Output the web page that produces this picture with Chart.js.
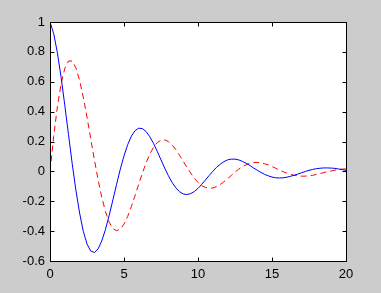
<!DOCTYPE html>
<html>
<head>
<meta charset="utf-8">
<script src="https://cdn.jsdelivr.net/npm/chart.js@4/dist/chart.umd.min.js"></script>
<style>
  html, body { margin:0; padding:0; background:#cccccc; }
  #wrap { width:381px; height:293px; }
</style>
</head>
<body>
<div id="wrap"><canvas id="mychart" width="381" height="293"></canvas></div>
<script>
// sample times
var t = [0,0.25,0.5,0.75,1,1.25,1.5,1.75,2,2.25,2.5,2.75,3,3.25,3.5,3.75,4,4.25,4.5,4.75,
         5,5.25,5.5,5.75,6,6.25,6.5,6.75,7,7.25,7.5,7.75,8,8.25,8.5,8.75,9,9.25,9.5,9.75,
         10,10.25,10.5,10.75,11,11.25,11.5,11.75,12,12.25,12.5,12.75,13,13.25,13.5,13.75,14,14.25,14.5,14.75,
         15,15.25,15.5,15.75,16,16.25,16.5,16.75,17,17.25,17.5,17.75,18,18.25,18.5,18.75,19,19.25,19.5,19.75,20]

// solid blue curve
var blue = [1.000,0.922,0.794,0.630,0.442,0.246,0.052,-0.126,-0.279,-0.401,-0.486,-0.533,-0.543,-0.519,-0.465,-0.388,-0.294,-0.191,-0.086,0.015,
            0.104,0.179,0.236,0.273,0.289,0.286,0.266,0.231,0.186,0.133,0.077,0.022,-0.029,-0.074,-0.110,-0.136,-0.151,-0.155,-0.149,-0.135,
            -0.114,-0.087,-0.058,-0.028,0.000,0.027,0.048,0.065,0.077,0.082,0.082,0.077,0.067,0.055,0.040,0.023,0.008,-0.007,-0.020,-0.030,
            -0.038,-0.043,-0.044,-0.043,-0.039,-0.033,-0.026,-0.018,-0.009,-0.001,0.007,0.013,0.018,0.021,0.023,0.023,0.022,0.020,0.016,0.012,0.007]

// dashed red curve
var red = [0.000,0.235,0.434,0.587,0.689,0.739,0.739,0.693,0.610,0.496,0.363,0.220,0.077,-0.056,-0.174,-0.270,-0.340,-0.383,-0.397,-0.386,
           -0.353,-0.301,-0.235,-0.161,-0.084,-0.010,0.059,0.117,0.162,0.193,0.209,0.211,0.200,0.177,0.146,0.108,0.068,0.027,-0.011,-0.046,
           -0.074,-0.095,-0.108,-0.113,-0.111,-0.102,-0.088,-0.070,-0.049,-0.027,-0.005,0.015,0.031,0.044,0.054,0.059,0.060,0.057,0.051,0.043,
           0.032,0.021,0.008,-0.002,-0.012,-0.020,-0.026,-0.030,-0.032,-0.032,-0.029,-0.026,-0.021,-0.015,-0.008,-0.002,0.003,0.008,0.012,0.015,0.017]

var xTicks = [0,5,10,15,20]
var yTicks = [-0.6,-0.4,-0.2,0,0.2,0.4,0.6,0.8,1]

function pts(ys){
    return t.map(function(x,i){ return {x:x, y:ys[i]} })
}

// gray figure, white axes, box with inward ticks like matlab
var boxPlugin = {
    id:'box',
    beforeDraw:function(chart){
        var c = chart.ctx, a = chart.chartArea
        c.save()
        c.fillStyle = '#cccccc'
        c.fillRect(0,0,chart.width,chart.height)
        c.fillStyle = '#ffffff'
        c.fillRect(a.left,a.top,a.right-a.left,a.bottom-a.top)
        c.restore()
    },
    afterDraw:function(chart){
        var c = chart.ctx, a = chart.chartArea
        var xs = chart.scales.x, ys = chart.scales.y
        var L = Math.round(a.left)+0.5, R = Math.round(a.right)+0.5
        var T = Math.round(a.top)+0.5, B = Math.round(a.bottom)+0.5
        c.save()
        c.strokeStyle = '#000'
        c.lineWidth = 1
        c.beginPath()
        c.rect(L,T,R-L,B-T)
        xTicks.forEach(function(v){
            var px = Math.round(xs.getPixelForValue(v))+0.5
            c.moveTo(px,B); c.lineTo(px,B-4)
            c.moveTo(px,T); c.lineTo(px,T+4)
        })
        yTicks.forEach(function(v){
            var py = Math.round(ys.getPixelForValue(v))+0.5
            c.moveTo(L,py); c.lineTo(L+4,py)
            c.moveTo(R,py); c.lineTo(R-4,py)
        })
        c.stroke()
        c.restore()
    }
}

var ctx = document.getElementById('mychart').getContext('2d')
var chart = new Chart(ctx,{
    type:'line',
    data:{
        datasets:[
            {
                data:pts(blue),
                borderColor:'#0000ff',
                borderWidth:1,
                pointRadius:0,
                tension:0,
            },
            {
                data:pts(red),
                borderColor:'#ff0000',
                borderWidth:1,
                borderDash:[6,4],
                pointRadius:0,
                tension:0,
            },
        ]
    },
    options:{
        responsive:false,
        animation:false,
        layout:{padding:{top:22,right:35,left:0,bottom:0}},
        plugins:{legend:{display:false},tooltip:{enabled:false}},
        scales:{
            x:{
                type:'linear',
                min:0, max:20,
                grid:{display:false, drawTicks:false},
                border:{display:false},
                afterBuildTicks:function(s){ s.ticks = xTicks.map(function(v){return {value:v}}) },
                afterFit:function(s){ s.height = 32 },
                ticks:{
                    color:'#000',
                    padding:6,
                    maxRotation:0,
                    font:{family:'Liberation Sans', size:13},
                    callback:function(v){ return String(v) }
                }
            },
            y:{
                min:-0.6, max:1,
                grid:{display:false, drawTicks:false},
                border:{display:false},
                afterBuildTicks:function(s){ s.ticks = yTicks.map(function(v){return {value:v}}) },
                afterFit:function(s){ s.width = 50 },
                ticks:{
                    color:'#000',
                    padding:5,
                    font:{family:'Liberation Sans', size:13},
                    callback:function(v){ return String(Math.round(v*10)/10) }
                }
            }
        }
    },
    plugins:[boxPlugin]
})
</script>
</body>
</html>
